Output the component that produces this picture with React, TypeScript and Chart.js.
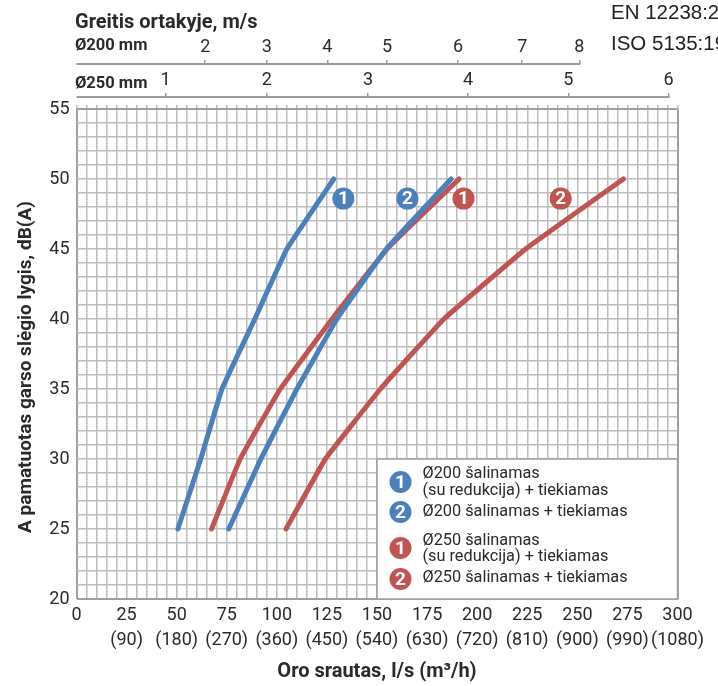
import React, { useEffect, useRef } from "react";
import { Chart, registerables } from "chart.js";

Chart.register(...registerables);

const dbLevels = [25, 30, 35, 40, 45, 50];
const flowBlue1 = [50.6, 62, 72.6, 89, 105, 128.4];
const flowBlue2 = [76, 92, 110, 130, 154.7, 187];
const flowRed1 = [67.4, 81.7, 101.7, 127.6, 155, 191];
const flowRed2 = [104.6, 124.2, 151.7, 183.4, 224.2, 273];

const flowLabels = [0, 25, 50, 75, 100, 125, 150, 175, 200, 225, 250, 275, 300];
const volumeLabels = ["", "(90)", "(180)", "(270)", "(360)", "(450)", "(540)", "(630)", "(720)", "(810)", "(900)", "(990)", "(1080)"];

const speed200Flow = [64.25, 95, 125.2, 155, 190.5, 222.5, 251];
const speed200Labels = ["2", "3", "4", "5", "6", "7", "8"];
const speed250Flow = [44.5, 95, 145.5, 195.5, 245.5, 295.5];
const speed250Labels = ["1", "2", "3", "4", "5", "6"];

const badgeFlow = [133.2, 165.2, 193.2, 241.7];
const badgeDb = [48.6, 48.6, 48.6, 48.6];
const badgeText = ["1", "2", "1", "2"];

const BLUE = "#4a80bc";
const RED = "#bf5450";
const TEXT = "#2a2a2e";
const GRID = "#bcbcbc";
const AXIS = "#a0a0a0";
const FONT = "Roboto";

const legendRows = [
  { cy: 482, n: "1", c: BLUE, lines: [["Ø200 šalinamas", 474], ["(su redukcija) + tiekiamas", 491]] },
  { cy: 512, n: "2", c: BLUE, lines: [["Ø200 šalinamas + tiekiamas", 511.5]] },
  { cy: 548, n: "1", c: RED, lines: [["Ø250 šalinamas", 540.5], ["(su redukcija) + tiekiamas", 556.5]] },
  { cy: 579, n: "2", c: RED, lines: [["Ø250 šalinamas + tiekiamas", 578]] },
];

function badge(ctx: CanvasRenderingContext2D, x: number, y: number, t: string, c: string | null) {
  if (c) {
    ctx.fillStyle = c;
    ctx.beginPath();
    ctx.arc(x, y, 11, 0, Math.PI * 2);
    ctx.fill();
  }
  ctx.fillStyle = "#fff";
  ctx.font = `bold 19px ${FONT}`;
  ctx.textAlign = "center";
  ctx.textBaseline = "middle";
  ctx.fillText(t, x, y + 1);
}

const decor = {
  id: "decor",
  beforeDatasetsDraw(chart: any) {
    const ctx = chart.ctx;
    const a = chart.chartArea;
    ctx.save();
    // legend box
    ctx.fillStyle = "#fff";
    ctx.strokeStyle = AXIS;
    ctx.lineWidth = 1.5;
    const lx = chart.scales.x.getPixelForValue(150);
    const ly = chart.scales.y.getPixelForValue(30);
    ctx.fillRect(lx, ly, a.right - lx, a.bottom - ly);
    ctx.strokeRect(lx, ly, a.right - lx, a.bottom - ly);
    ctx.restore();
  },
  afterDatasetsDraw(chart: any) {
    const ctx = chart.ctx;
    ctx.save();
    // number on each badge
    const meta = chart.getDatasetMeta(4);
    meta.data.forEach((p: any, i: number) => badge(ctx, p.x, p.y, badgeText[i], null));
    // legend
    const legendX = chart.scales.x.getPixelForValue(150);
    legendRows.forEach((r) => {
      badge(ctx, legendX + 23.5, r.cy, r.n, r.c);
      ctx.fillStyle = TEXT;
      ctx.font = `16.3px ${FONT}`;
      ctx.textAlign = "left";
      ctx.textBaseline = "middle";
      r.lines.forEach(([t, y]) => ctx.fillText(t as string, legendX + 45.5, y as number));
    });
    // top axis lines
    ctx.strokeStyle = "#9a9a9a";
    ctx.lineWidth = 2;
    [["x200", speed200Flow], ["x250", speed250Flow]].forEach(([id, fl]: any) => {
      const s = chart.scales[id];
      ctx.beginPath();
      ctx.moveTo(s.left, s.bottom);
      ctx.lineTo(s.getPixelForValue(fl[fl.length - 1]) + 1, s.bottom);
      ctx.stroke();
    });
    // titles
    ctx.fillStyle = TEXT;
    ctx.textAlign = "left";
    ctx.textBaseline = "middle";
    ctx.font = `bold 20px ${FONT}`;
    ctx.fillText("Greitis ortakyje, m/s", 75, 23);
    ctx.font = `bold 16.5px ${FONT}`;
    ctx.fillText("Ø200 mm", 75, 45.5);
    ctx.fillText("Ø250 mm", 75, 83.5);
    ctx.font = "20.5px 'Liberation Sans'";
    ctx.fillStyle = "#222";
    ctx.fillText("EN 12238:2001", 611, 13);
    ctx.fillText("ISO 5135:1997", 611, 44);
    // y title
    ctx.translate(26, 367);
    ctx.rotate(-Math.PI / 2);
    ctx.textAlign = "center";
    ctx.fillStyle = TEXT;
    ctx.font = `bold 19px ${FONT}`;
    ctx.fillText("A pamatuotas garso slėgio lygis, dB(A)", 0, 0);
    ctx.restore();
  },
};

const topAxis = (flows: number[], labels: string[], h: number, weight: number) => ({
  type: "linear",
  position: "top",
  min: 0,
  max: 300,
  weight,
  border: { display: false },
  grid: { drawOnChartArea: false, drawTicks: true, tickLength: 4, color: "#9a9a9a", lineWidth: 1.5 },
  afterBuildTicks: (s: any) => {
    s.ticks = flows.map((value) => ({ value }));
  },
  afterFit: (s: any) => {
    s.height = h;
  },
  ticks: {
    autoSkip: false,
    maxRotation: 0,
    padding: 2,
    color: TEXT,
    font: { family: FONT, size: 18 },
    callback: (_v: any, i: number) => labels[i],
  },
});

export default function App() {
  const ref = useRef<HTMLCanvasElement>(null);
  useEffect(() => {
    const line = (label: string, xs: number[], color: string) => ({
      label,
      data: xs.map((x, i) => ({ x, y: dbLevels[i] })),
      borderColor: color,
      backgroundColor: color,
      borderWidth: 5,
      borderCapStyle: "round",
      borderJoinStyle: "round",
      pointRadius: 0,
      tension: 0.08,
    });
    const chart = new Chart(ref.current!, {
      type: "line",
      data: {
        datasets: [
          line("Ø200 1", flowBlue1, BLUE),
          line("Ø200 2", flowBlue2, BLUE),
          line("Ø250 1", flowRed1, RED),
          line("Ø250 2", flowRed2, RED),
          {
            label: "badges",
            data: badgeFlow.map((x, i) => ({ x, y: badgeDb[i] })),
            showLine: false,
            pointRadius: 11,
            pointHoverRadius: 11,
            borderWidth: 0,
            pointBackgroundColor: [BLUE, BLUE, RED, RED],
            pointBorderColor: [BLUE, BLUE, RED, RED],
          },
        ],
      } as any,
      options: {
        responsive: false,
        animation: false,
        devicePixelRatio: 1,
        layout: { padding: { top: 0, right: 40.5, bottom: 0, left: 0 } },
        plugins: { legend: { display: false }, title: { display: false }, tooltip: { enabled: false } },
        scales: {
          x: {
            type: "linear",
            position: "bottom",
            min: 0,
            max: 300,
            border: { display: false },
            grid: {
              color: (c: any) => (c.tick && (c.tick.value === 0 || c.tick.value === 300) ? AXIS : GRID),
              lineWidth: (c: any) => (c.tick && (c.tick.value === 0 || c.tick.value === 300) ? 2 : 1.5),
              drawTicks: false,
            },
            afterFit: (s: any) => {
              s.height = 87;
            },
            title: {
              display: true,
              text: "Oro srautas, l/s (m³/h)",
              color: TEXT,
              font: { family: FONT, size: 20, weight: "bold" },
              padding: { top: 0, bottom: 2 },
            },
            ticks: {
              stepSize: 5,
              autoSkip: false,
              maxRotation: 0,
              padding: 4,
              color: TEXT,
              font: { family: FONT, size: 18, lineHeight: 1.39 },
              callback: (v: any) => {
                const i = flowLabels.indexOf(v);
                if (i < 0) return "";
                return volumeLabels[i] ? [String(v), volumeLabels[i]] : String(v);
              },
            },
          },
          xEdge: {
            type: "linear",
            position: "top",
            min: 0,
            max: 300,
            weight: 1,
            border: { display: false },
            grid: { drawOnChartArea: false, tickLength: 4, color: GRID, lineWidth: 1.5 },
            afterFit: (s: any) => {
              s.height = 12;
            },
            ticks: { display: false, stepSize: 5, autoSkip: false },
          },
          x250: topAxis(speed250Flow, speed250Labels, 33, 2),
          x200: topAxis(speed200Flow, speed200Labels, 64, 3),
          y: {
            type: "linear",
            position: "left",
            min: 20,
            max: 55,
            border: { display: false },
            grid: {
              color: (c: any) => (c.tick && (c.tick.value === 20 || c.tick.value === 55) ? AXIS : GRID),
              lineWidth: (c: any) => (c.tick && (c.tick.value === 20 || c.tick.value === 55) ? 2 : 1.5),
              drawTicks: false,
            },
            afterFit: (s: any) => {
              s.width = 76.5;
            },
            ticks: {
              stepSize: 1,
              autoSkip: false,
              padding: 7,
              color: TEXT,
              font: { family: FONT, size: 18 },
              callback: (v: any) => (v % 5 === 0 ? String(v) : ""),
            },
          },
        },
      } as any,
      plugins: [decor],
    });
    return () => chart.destroy();
  }, []);
  return (
    <div style={{ position: "absolute", left: 0, top: 0, width: 718, height: 686, overflow: "hidden", background: "#fff" }}>
      <canvas ref={ref} width={718} height={686} style={{ display: "block" }} />
    </div>
  );
}
